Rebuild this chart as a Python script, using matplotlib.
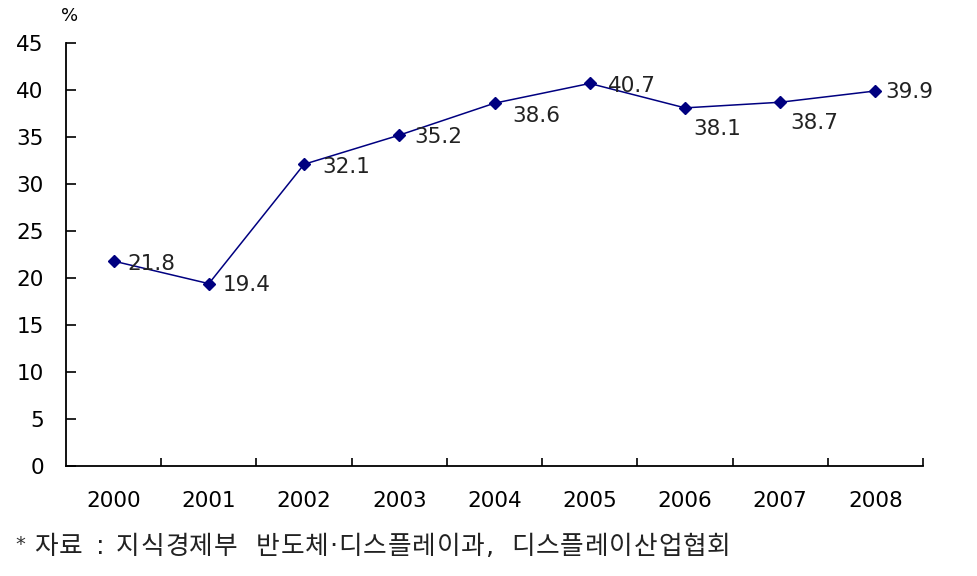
import numpy as np
import matplotlib.pyplot as plt

plt.rcParams['font.family'] = ['DejaVu Sans', 'Noto Sans CJK KR']

#------------------------------------------------------------------------
# datos
years = ['2000', '2001', '2002', '2003', '2004', '2005', '2006', '2007', '2008']
values = [21.8, 19.4, 32.1, 35.2, 38.6, 40.7, 38.1, 38.7, 39.9]
yticks = [0, 5, 10, 15, 20, 25, 30, 35, 40, 45]
note_words = ['자료', ':', '지식경제부', '반도체·디스플레이과,', '디스플레이산업협회']

# desplazamiento de cada etiqueta (puntos)
offsets = [(10, -2), (10, -1), (13, -2), (11, -1), (13, -9), (13, -2), (6, -15), (7, -15), (7, -1)]
# inicio (px) de cada palabra de la nota
note_x = [34, 96, 116, 256, 511]

#------------------------------------------------------------------------
W, H = 978, 576
fig = plt.figure(figsize=(W / 100, H / 100), dpi=100)
ax = fig.add_axes([0.0675, 0.191, 0.8763, 0.7343])

x = np.arange(len(years))
ax.plot(x, values, color='#000080', lw=1.1, marker='D', ms=6, mfc='#000080', mec='#000080')

for xi, v, off in zip(x, values, offsets):
    ax.annotate(f'{v:.1f}', (xi, v), xytext=off, textcoords='offset points',
                ha='left', va='center', fontsize=15.5, color='#222222')

ax.set_xlim(-0.5, len(years) - 0.5)
ax.set_ylim(0, 45)
ax.set_yticks(yticks)
ax.set_yticklabels([str(t) for t in yticks], fontsize=15.5)
ax.set_xticks(x)
ax.set_xticklabels(years, fontsize=15.5)
ax.set_xticks(np.arange(len(years)) + 0.5, minor=True)

ax.tick_params(axis='x', which='major', length=0, pad=18)
ax.tick_params(axis='x', which='minor', direction='in', length=6, width=1.2)
ax.tick_params(axis='y', direction='in', length=7, width=1.2, pad=16)

for s in ['top', 'right']:
    ax.spines[s].set_visible(False)
for s in ['left', 'bottom']:
    ax.spines[s].set_linewidth(1.3)

fig.text(0.062, 0.972, '%', fontsize=13, va='center')

# nota al pie, letra por letra con paso fijo
yn = 1 - 547 / H
fig.text(15 / W, yn + 0.004, '*', fontsize=14, va='center', color='#333333')
for word, x0 in zip(note_words, note_x):
    px = x0
    for ch in word:
        hangul = ord(ch) > 0x1100 and ch != '·'
        fam = ['Noto Sans CJK KR', 'DejaVu Sans'] if hangul else ['DejaVu Sans']
        fig.text(px / W, yn, ch, fontsize=18.5, va='center', color='#222222', family=fam)
        px += 24.5 if hangul else 9

plt.savefig('out.png', dpi=100)
